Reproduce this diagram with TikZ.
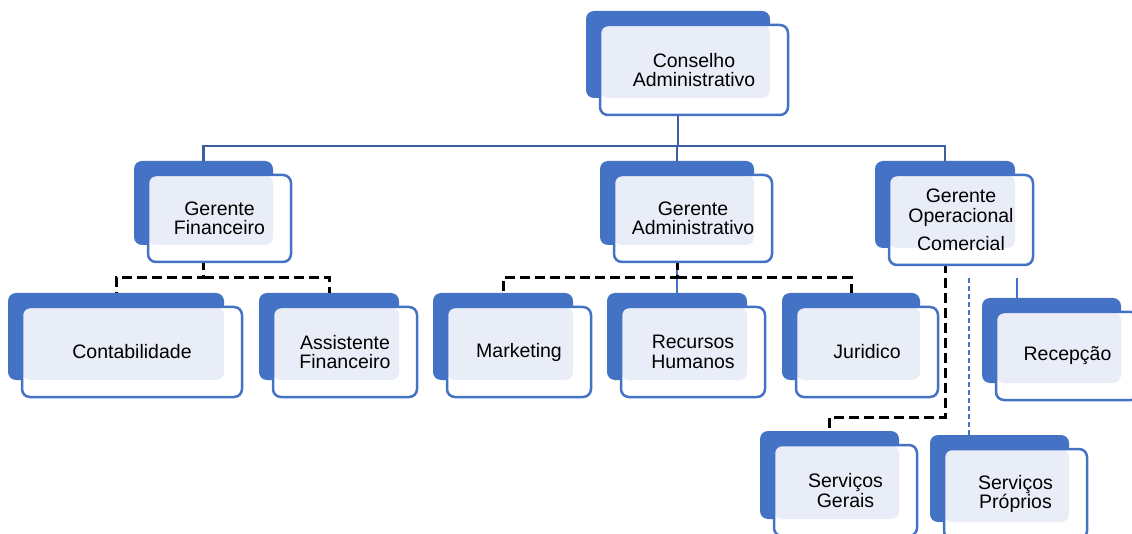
\documentclass[tikz,border=0pt]{standalone}
\usepackage{fontspec}
\setmainfont{Liberation Sans}
\usepackage{xcolor}
\definecolor{boxblue}{RGB}{68,114,196}
\definecolor{busblue}{RGB}{62,94,162}
\definecolor{pale}{RGB}{233,237,247}
\usetikzlibrary{fit}
\pgfdeclarelayer{back}
\pgfsetlayers{back,main}

\begin{document}
\begin{tikzpicture}[x=1pt, y=-1pt,
    unit/.style={draw=boxblue, line width=2.5pt, fill=white, rounded corners=8pt,
      align=center, inner sep=0pt, outer sep=0pt,
      font=\fontsize{19.5}{19.5}\selectfont,
      path picture={\fill[pale, rounded corners=8pt] (path picture bounding box.north west)
        rectangle ([xshift=-18pt,yshift=17pt]path picture bounding box.south east);}},
    backbox/.style={fill=boxblue, rounded corners=8pt, inner sep=0pt, outer sep=0pt},
    bus/.style={draw=busblue, line width=2.5pt},
    branch/.style={draw=black, line width=3pt, dash pattern=on 10pt off 5pt},
    thinlink/.style={draw=boxblue, line width=1.2pt}]

      \useasboundingbox (0,0) rectangle (1132,534);

      % top and managers
      \node[unit, minimum width=188pt, minimum height=90pt] (cons) at (694,70) {Conselho\\Administrativo};
      \node[unit, minimum width=143pt, minimum height=87pt] (fin) at (219.5,218.5) {Gerente\\Financeiro};
      \node[unit, minimum width=158pt, minimum height=87pt] (adm) at (693,218.5) {Gerente\\Administrativo};
      \node[unit, minimum width=144pt, minimum height=90pt] (ope) at (961,220) {Gerente\\Operacional\\[9pt]Comercial};

      % departments
      \node[unit, minimum width=220pt, minimum height=90pt] (cont) at (132,352) {Contabilidade};
      \node[unit, minimum width=144pt, minimum height=90pt] (asst) at (345,352) {Assistente\\Financeiro};
      \node[unit, minimum width=144pt, minimum height=90pt] (mkt) at (519,352) {Marketing};
      \node[unit, minimum width=144pt, minimum height=90pt] (rh) at (693,352) {Recursos\\Humanos};
      \node[unit, minimum width=142pt, minimum height=90pt] (jur) at (867,352) {Juridico};
      \node[unit, minimum width=143pt, minimum height=88pt] (rec) at (1067.5,356) {Recepção};
      \node[unit, minimum width=143pt, minimum height=91pt] (sg) at (845.5,490.5) {Serviços\\Gerais};
      \node[unit, minimum width=143pt, minimum height=90pt] (sp) at (1015.5,494) {Serviços\\Próprios};

      \begin{pgfonlayer}{back}
      \foreach \n in {cons,fin,adm,ope,cont,asst,mkt,rh,jur,rec,sg,sp}
        \node[backbox, fit={([xshift=-14pt,yshift=14pt]\n.north west) ([xshift=-18pt,yshift=17pt]\n.south east)}] (\n-b) {};

      \draw[bus] (cons-b.south) -- ++(0,48) coordinate (hub);
      \draw[bus] (hub) -| (fin-b.north);
      \draw[bus] (hub) -| (adm-b.north);
      \draw[bus] (hub) -| (ope-b.north);

      \draw[branch] (fin-b.south) -- ++(0,33) coordinate (fin-hub) -| (cont-b.north);
      \draw[branch] (fin-hub) -| (asst-b.north);

      \draw[thinlink, line width=2pt] (adm-b.south) -- (rh-b.north);
      \draw[branch] (adm-b.south) -- ++(0,33) coordinate (adm-hub) -| (mkt-b.north);
      \draw[branch] (adm-hub) -| (jur-b.north);

      \draw[branch] (ope-b.south) -- ++(0,169) -| (sg-b.north);
      \draw[thinlink, dash pattern=on 5pt off 3pt] ([xshift=39pt]sp-b.north west) -- ++(0,-157);
      \draw[thinlink] ([xshift=21pt]rec.north west) -- ++(0,-34);
      \end{pgfonlayer}

\end{tikzpicture}
\end{document}
